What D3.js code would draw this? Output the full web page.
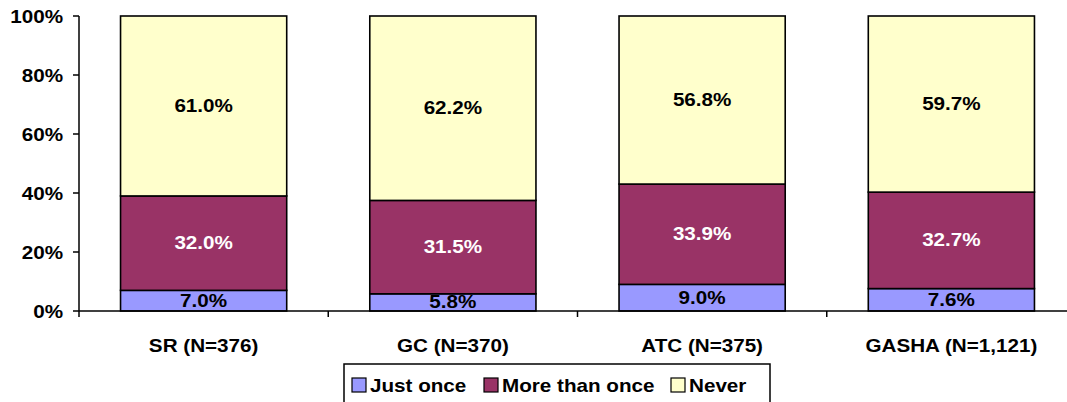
<!DOCTYPE html>
<html><head><meta charset="utf-8">
<script src="https://cdn.jsdelivr.net/npm/d3@7"></script>
<style>html,body{margin:0;padding:0;background:#fff;}svg{display:block;}</style>
</head><body>
<svg id="c" width="1067" height="402"></svg>
<script>
const categories = ["SR (N=376)", "GC (N=370)", "ATC (N=375)", "GASHA (N=1,121)"];
const seriesNames = ["Just once", "More than once", "Never"];
const justOnce = [7.0, 5.8, 9.0, 7.6];
const moreThanOnce = [32.0, 31.5, 33.9, 32.7];
const never = [61.0, 62.2, 56.8, 59.7];
const yTicks = [0, 20, 40, 60, 80, 100];
const colors = ["#9999FF", "#993366", "#FFFFCC"];
const labelColors = ["#000", "#fff", "#000"];

const svg = d3.select("#c");
const FONT = "'Liberation Sans', Arial, sans-serif";
const FS = 17.5, SX = 1.18;

const rows = categories.map((c, i) => ({cat: c, "Just once": justOnce[i], "More than once": moreThanOnce[i], "Never": never[i]}));
const stack = d3.stack().keys(seriesNames).offset(d3.stackOffsetExpand);
const stacked = stack(rows);

const x = d3.scaleBand().domain(categories).range([79, 1076]).paddingInner(1/3).paddingOuter(1/6);
const y = d3.scaleLinear().domain([0, 1]).range([311, 16]);

function txt(g, xx, yy, s, anchor, color) {
  return g.append("text").attr("transform", `translate(${xx},${yy}) scale(${SX},1)`)
    .attr("text-anchor", anchor).attr("font-family", FONT).attr("font-weight", "bold")
    .attr("font-size", FS).attr("fill", color || "#000").text(s);
}

// bars
stacked.forEach((layer, li) => {
  const g = svg.append("g");
  layer.forEach((d, i) => {
    g.append("rect").attr("x", x(categories[i])).attr("width", x.bandwidth())
      .attr("y", y(d[1])).attr("height", y(d[0]) - y(d[1]))
      .attr("fill", colors[li]).attr("stroke", "#000").attr("stroke-width", 1.6);
  });
});
// labels
const vals = [justOnce, moreThanOnce, never];
stacked.forEach((layer, li) => {
  layer.forEach((d, i) => {
    const cy = (y(d[0]) + y(d[1])) / 2;
    txt(svg, x(categories[i]) + x.bandwidth() / 2, cy + 6, vals[li][i].toFixed(1) + "%", "middle", labelColors[li]);
  });
});

// y axis
const ya = svg.append("g");
ya.append("line").attr("x1", 79).attr("x2", 79).attr("y1", y(1)).attr("y2", 317).attr("stroke", "#000").attr("stroke-width", 1.5);
yTicks.forEach(t => {
  ya.append("line").attr("x1", 73).attr("x2", 79).attr("y1", y(t / 100)).attr("y2", y(t / 100)).attr("stroke", "#000").attr("stroke-width", 1.5);
  txt(ya, 63, y(t / 100) + 6.5, t + "%", "end");
});

// x axis
const xa = svg.append("g");
xa.append("line").attr("x1", 79).attr("x2", 1067).attr("y1", 311).attr("y2", 311).attr("stroke", "#000").attr("stroke-width", 1.5);
categories.forEach((c, i) => {
  const bx = x(c) - x.step() * x.paddingInner() / 2 + x.step();
  xa.append("line").attr("x1", bx).attr("x2", bx).attr("y1", 311).attr("y2", 317).attr("stroke", "#000").attr("stroke-width", 1.5);
  txt(xa, x(c) + x.bandwidth() / 2, 352, c, "middle");
});

// legend
const lg = svg.append("g");
lg.append("rect").attr("x", 344).attr("y", 364).attr("width", 426).attr("height", 50).attr("fill", "#fff").attr("stroke", "#000").attr("stroke-width", 1.5);
const legX = [352, 484, 671];
seriesNames.forEach((s, i) => {
  lg.append("rect").attr("x", legX[i]).attr("y", 378).attr("width", 14).attr("height", 14).attr("fill", colors[i]).attr("stroke", "#000").attr("stroke-width", 1.2);
  txt(lg, legX[i] + 18, 391.5, s, "start");
});
</script>
</body></html>
